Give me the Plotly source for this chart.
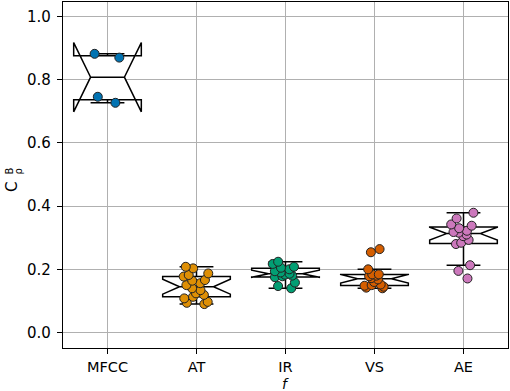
import plotly.graph_objects as go

categories = ["MFCC", "AT", "IR", "VS", "AE"]
colors = ["#0173B2", "#DE8F05", "#029E73", "#D55E00", "#CC78BC"]

mfcc = [0.882, 0.870, 0.746, 0.727]
at = [0.208, 0.203, 0.187, 0.182, 0.177, 0.166, 0.164, 0.156, 0.150,
      0.140, 0.134, 0.124, 0.119, 0.113, 0.108, 0.097, 0.094, 0.090]
ir = [0.224, 0.217, 0.208, 0.205, 0.200, 0.194, 0.190, 0.186, 0.183,
      0.180, 0.178, 0.175, 0.158, 0.147, 0.140]
vs = [0.264, 0.254, 0.200, 0.184, 0.184, 0.180, 0.178, 0.172, 0.168,
      0.160, 0.152, 0.150, 0.148, 0.145, 0.142, 0.140]
ae = [0.379, 0.361, 0.342, 0.338, 0.330, 0.322, 0.318, 0.316, 0.310,
      0.305, 0.293, 0.284, 0.280, 0.213, 0.195, 0.171]
series = [mfcc, at, ir, vs, ae]

y_ticks = [0.0, 0.2, 0.4, 0.6, 0.8, 1.0]

fig = go.Figure()
for cat, vals, col in zip(categories, series, colors):
    fig.add_trace(go.Box(
        x=[cat] * len(vals), y=vals, name=cat,
        notched=True, notchwidth=0.25, width=0.76, whiskerwidth=0.5,
        boxpoints="all", jitter=0.45, pointpos=0,
        fillcolor="white", line=dict(color="black", width=1.5),
        marker=dict(color=col, size=9, line=dict(color="#222222", width=1)),
        showlegend=False, quartilemethod="linear",
    ))

fig.update_layout(
    width=510, height=391,
    margin=dict(l=63, r=2, t=2, b=43, autoexpand=False),
    plot_bgcolor="white", paper_bgcolor="white",
    font=dict(family="DejaVu Sans", size=15, color="black"),
    xaxis=dict(
        type="category", categoryorder="array", categoryarray=categories,
        range=[-0.5, 4.5], showgrid=True, gridcolor="#b0b0b0", gridwidth=1,
        showline=True, linecolor="black", linewidth=1.3, mirror=True,
        ticks="outside", ticklen=5, tickcolor="black", ticklabelstandoff=0,
        tickfont=dict(size=14.5),
        automargin=False, zeroline=False,
    ),
    yaxis=dict(
        range=[-0.049, 1.046], tickvals=y_ticks, tickformat=".1f",
        showgrid=True, gridcolor="#b0b0b0", gridwidth=1,
        showline=True, linecolor="black", linewidth=1.3, mirror=True,
        ticks="outside", ticklen=5, tickcolor="black", ticklabelstandoff=3,
        automargin=False, zeroline=False,
    ),
    annotations=[
        dict(text="<i>f</i>", xref="paper", yref="paper", x=0.5, y=-0.104,
             xanchor="center", yanchor="middle", showarrow=False,
             font=dict(size=14)),
        dict(text="C", xref="paper", yref="paper", x=0, y=0.465,
             xshift=-51, xanchor="center", yanchor="middle",
             showarrow=False, textangle=-90, font=dict(size=15)),
        dict(text="B", xref="paper", yref="paper", x=0, y=0.51,
             xshift=-53, xanchor="center", yanchor="middle",
             showarrow=False, textangle=-90, font=dict(size=10)),
        dict(text="ρ", xref="paper", yref="paper", x=0, y=0.51,
             xshift=-44, xanchor="center", yanchor="middle",
             showarrow=False, textangle=-90, font=dict(size=10)),
    ],
)

fig.write_html(
    "out.html",
    config={"displayModeBar": False},
    post_script="document.body.style.margin='0';document.body.style.padding='0';",
)
